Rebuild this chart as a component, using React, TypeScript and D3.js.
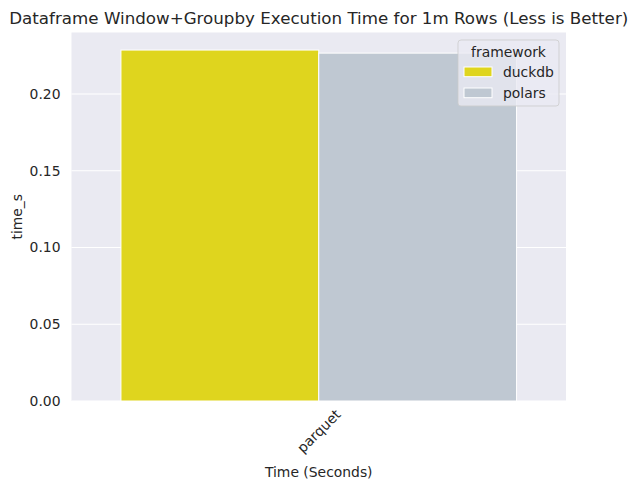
import * as d3 from 'd3';
import { FC } from 'react';

const categories = ['parquet'];
const frameworks = ['duckdb', 'polars'];
const timeS = [0.2286, 0.2266];
const yTicks = [0, 0.05, 0.1, 0.15, 0.2];
const colors = ['#dfd51e', '#bfc8d2'];

const W = 636;
const H = 489;
const margin = { top: 32.5, right: 70, bottom: 88, left: 71.5 };
const FONT = 'DejaVu Sans, sans-serif';

const App: FC = () => {
  const plotW = W - margin.left - margin.right;
  const plotH = H - margin.top - margin.bottom;

  const x = d3.scaleBand().domain(categories).range([0, plotW]).paddingInner(0).paddingOuter(0);
  const inner = d3
    .scaleBand()
    .domain(frameworks)
    .range([x.bandwidth() * 0.1, x.bandwidth() * 0.9]);
  const yMax = d3.max(timeS)! * 1.05;
  const y = d3.scaleLinear().domain([0, yMax]).range([plotH, 0]);

  const legendX = plotW - 7 - 101;
  const legendY = 7.5;

  return (
    <div style={{ position: 'absolute', left: 0, top: 0 }}>
      <svg width={W} height={H} style={{ display: 'block', background: '#fff' }}>
        <text
          x={margin.left + plotW / 2}
          y={24}
          textAnchor="middle"
          fontFamily={FONT}
          fontSize={16.7}
          fill="#262626"
        >
          Dataframe Window+Groupby Execution Time for 1m Rows (Less is Better)
        </text>
        <g transform={`translate(${margin.left},${margin.top})`}>
          <rect width={plotW} height={plotH} fill="#eaeaf2" />
          {yTicks.map((t) => (
            <g key={t}>
              <line x1={0} x2={plotW} y1={y(t)} y2={y(t)} stroke="#fff" strokeWidth={1.1} />
              <text
                x={-11}
                y={y(t)}
                textAnchor="end"
                dominantBaseline="central"
                fontFamily={FONT}
                fontSize={13.9}
                fill="#262626"
              >
                {d3.format('.2f')(t)}
              </text>
            </g>
          ))}
          {categories.map((c) =>
            frameworks.map((f, i) => (
              <rect
                key={c + f}
                x={x(c)! + inner(f)!}
                y={y(timeS[i])}
                width={inner.bandwidth()}
                height={plotH - y(timeS[i])}
                fill={colors[i]}
                stroke="#fff"
                strokeWidth={1}
              />
            ))
          )}
          {categories.map((c) => {
            const cx = x(c)! + x.bandwidth() / 2;
            return (
              <text
                key={c}
                transform={`translate(${cx},${plotH + 30}) rotate(-45)`}
                textAnchor="middle"
                dominantBaseline="central"
                fontFamily={FONT}
                fontSize={13.9}
                fill="#262626"
              >
                {c}
              </text>
            );
          })}
          <text
            x={plotW / 2}
            y={plotH + 76}
            textAnchor="middle"
            fontFamily={FONT}
            fontSize={13.9}
            fill="#262626"
          >
            Time (Seconds)
          </text>
          <text
            transform={`translate(${17 - margin.left},${plotH / 2}) rotate(-90)`}
            textAnchor="middle"
            dominantBaseline="central"
            fontFamily={FONT}
            fontSize={13.9}
            fill="#262626"
          >
            time_s
          </text>
          <g transform={`translate(${legendX},${legendY})`}>
            <rect
              width={101}
              height={66}
              rx={3}
              fill="#eaeaf2"
              fillOpacity={0.8}
              stroke="#cccccc"
              strokeOpacity={0.8}
            />
            <text
              x={50.5}
              y={16.5}
              textAnchor="middle"
              fontFamily={FONT}
              fontSize={13.9}
              fill="#262626"
            >
              framework
            </text>
            {frameworks.map((f, i) => (
              <g key={f} transform={`translate(0,${i * 21})`}>
                <rect x={6} y={27} width={28} height={9.7} fill={colors[i]} stroke="#fff" strokeWidth={1} />
                <text x={45} y={37} fontFamily={FONT} fontSize={13.9} fill="#262626">
                  {f}
                </text>
              </g>
            ))}
          </g>
        </g>
      </svg>
    </div>
  );
};

export default App;
